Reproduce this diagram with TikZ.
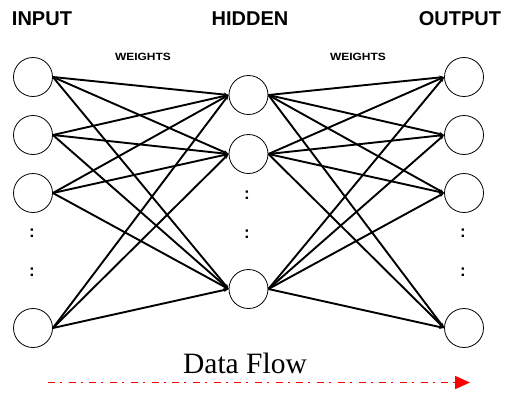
\documentclass[tikz,border=0pt]{standalone}
\usepackage{fontspec}
\setmainfont{Liberation Serif}
\newfontfamily\arial{Liberation Sans}
\usetikzlibrary{arrows.meta}
\begin{document}
\begin{tikzpicture}[x=1pt,y=-1pt,
  neuron/.style={circle,draw,line width=0.8pt,minimum size=39pt,inner sep=0pt},
  wire/.style={line width=1.9pt,-{Stealth[length=5pt,width=4pt]}},
  title/.style={anchor=base,font=\arial\bfseries\fontsize{20}{24}\selectfont},
  wlabel/.style={anchor=base,font=\arial\bfseries\fontsize{10.5}{12}\selectfont},
  vdots/.style={font=\arial\bfseries\fontsize{17}{20}\selectfont,inner sep=0pt},
  flow/.style={red,line width=1.7pt,dash pattern=on 7pt off 5pt on 2pt off 6.7pt,
    -{Triangle[length=15pt,width=13pt]}}]
\useasboundingbox (0,0) rectangle (506,392);

% headings
\node[title] (tin) at (42,25) {INPUT};
\node[title] (thid) at (250,25) {HIDDEN};
\node[title] (tout) at (460,25) {OUTPUT};
\node[wlabel] (w1) at (143,60.5) {\scalebox{1.14}[1]{WEIGHTS}};
\node[wlabel] (w2) at (358,60.5) {\scalebox{1.14}[1]{WEIGHTS}};

% input layer
\node[neuron] (i1) at (33,77) {};
\node[neuron] (i2) at (33,135) {};
\node[neuron] (i3) at (33,193) {};
\node[neuron] (i4) at (33,328) {};
% hidden layer
\node[neuron] (h1) at (248.5,95) {};
\node[neuron] (h2) at (248.5,154) {};
\node[neuron] (h3) at (248.5,289) {};
% output layer
\node[neuron] (o1) at (464,77) {};
\node[neuron] (o2) at (464,135) {};
\node[neuron] (o3) at (464,193) {};
\node[neuron] (o4) at (464,328) {};

% elided units
\node[vdots] (di1) at (32,233) {:};
\node[vdots] (di2) at (32,272) {:};
\node[vdots] (dh1) at (247,195) {:};
\node[vdots] (dh2) at (247,234) {:};
\node[vdots] (do1) at (463,233) {:};
\node[vdots] (do2) at (463,272) {:};

% weights: input -> hidden -> output
\foreach \i in {i1,i2,i3,i4}
  \foreach \h in {h1,h2,h3}
    \draw[wire] (\i.east) -- (\h.west);
\foreach \h in {h1,h2,h3}
  \foreach \o in {o1,o2,o3,o4}
    \draw[wire] (\h.east) -- (\o.west);

% data flow direction
\node[anchor=base,font=\fontsize{29.5}{32}\selectfont] (df) at (245,373) {Data Flow};
\coordinate (fa) at (48,382.5);
\coordinate (fb) at (470,382.5);
\draw[flow] (fa) -- (fb);
\end{tikzpicture}
\end{document}
